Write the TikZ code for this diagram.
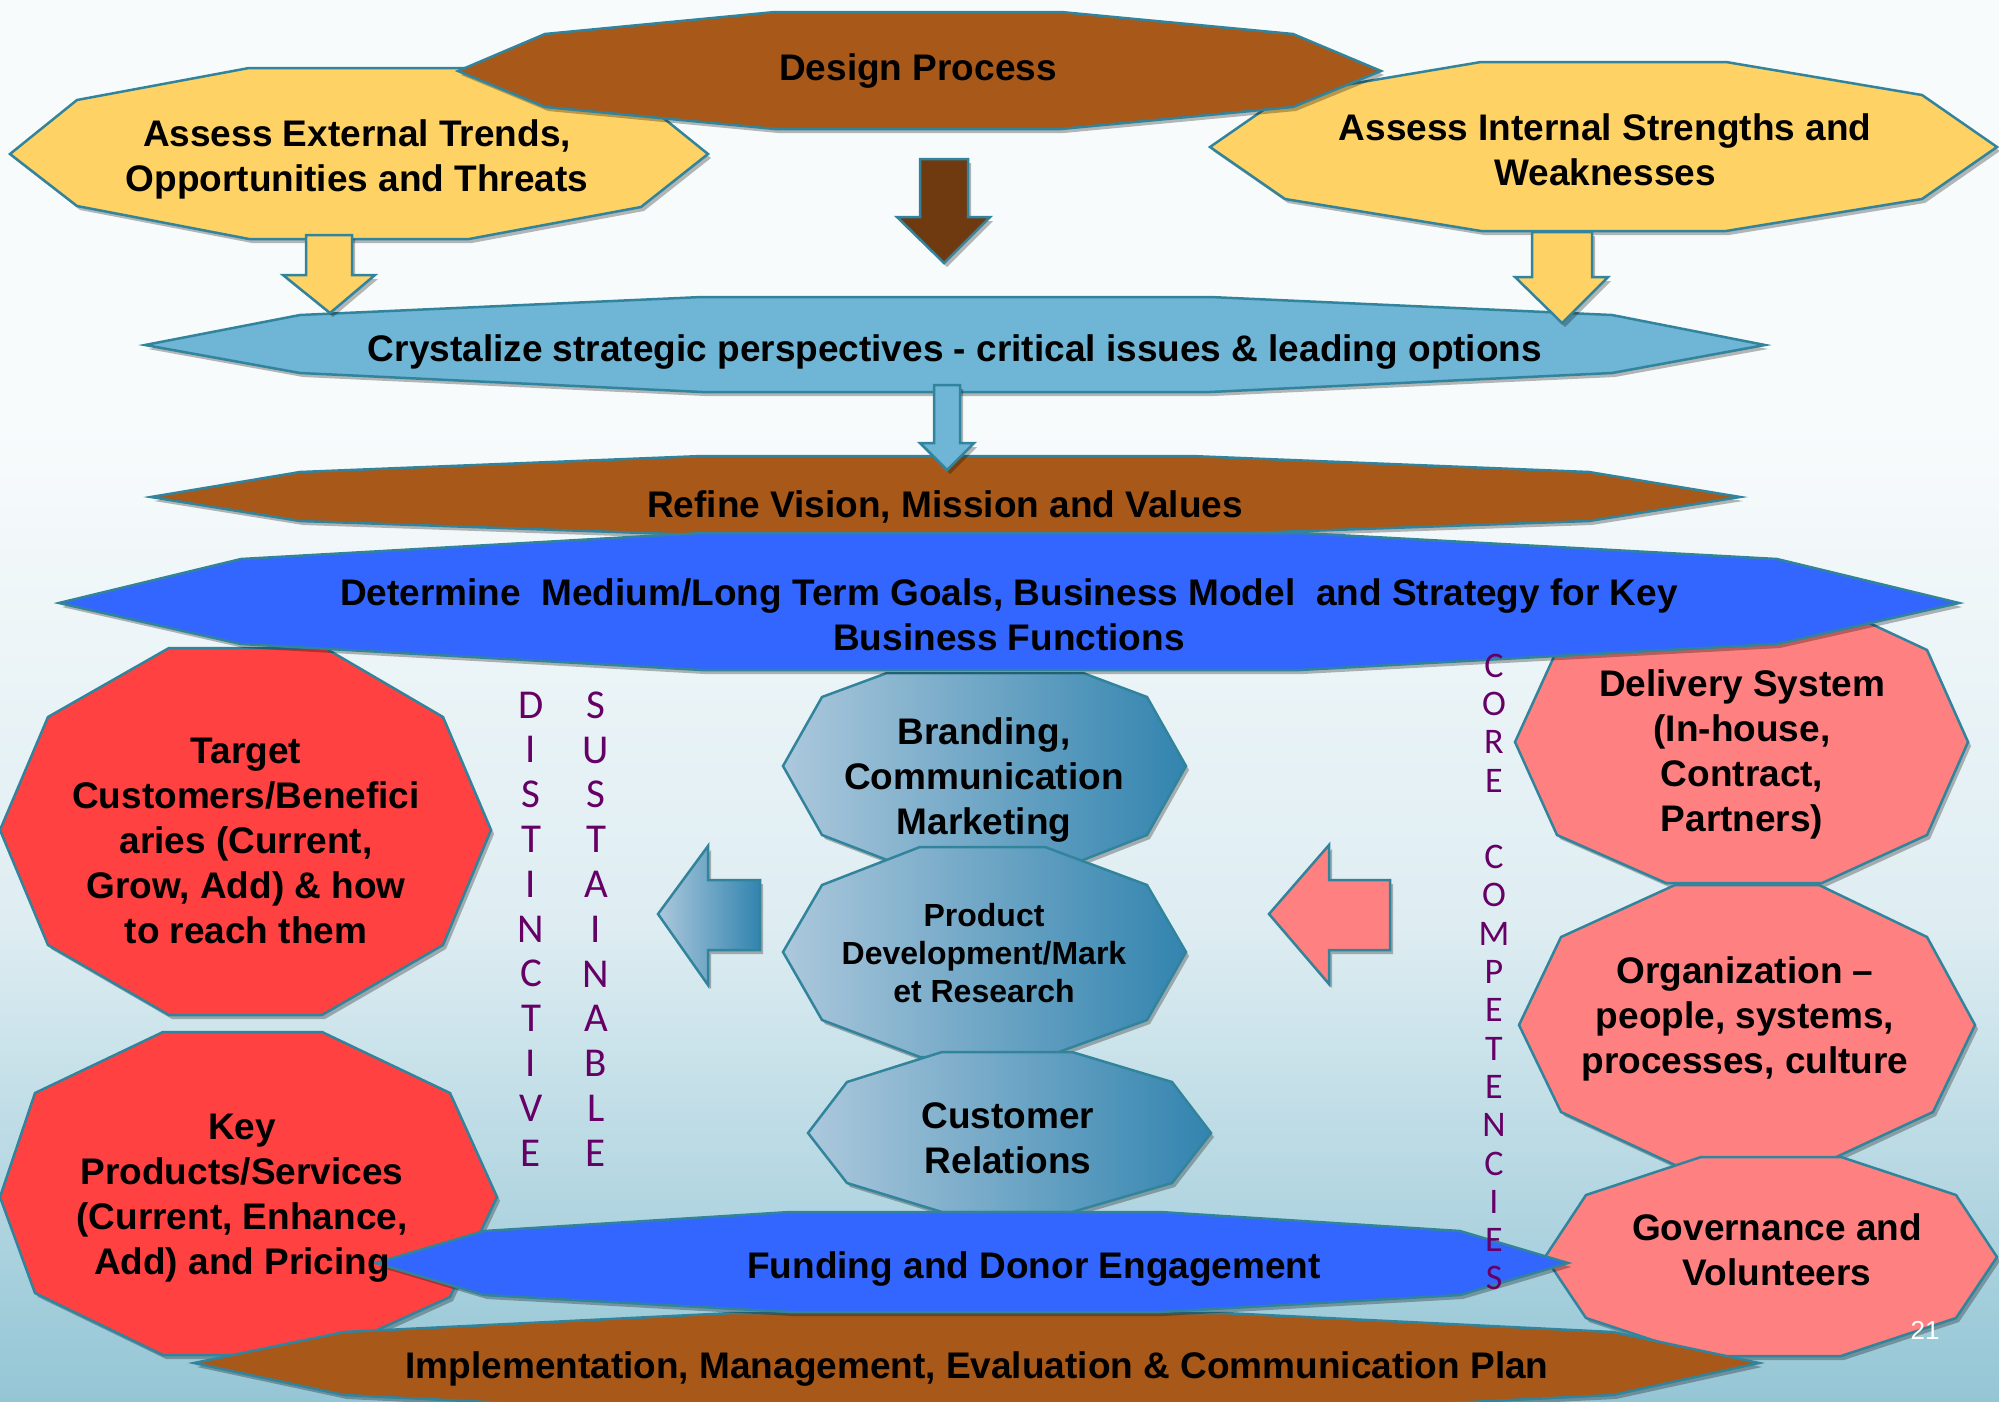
\documentclass[tikz,border=0pt]{standalone}
\usepackage{fontspec}
\setmainfont{Liberation Sans}
\newfontfamily\thinfont{Carlito}
\usetikzlibrary{shadows}
\definecolor{edge}{RGB}{49,132,155}
\definecolor{bandbrown}{RGB}{168,88,24}
\definecolor{arrowbrown}{RGB}{112,58,16}
\definecolor{softyellow}{RGB}{255,210,102}
\definecolor{skyblue}{RGB}{110,181,214}
\definecolor{vividblue}{RGB}{51,102,255}
\definecolor{brightred}{RGB}{255,65,65}
\definecolor{salmon}{RGB}{255,128,128}
\definecolor{purp}{RGB}{102,0,102}
\definecolor{steelL}{RGB}{172,200,220}
\definecolor{steelR}{RGB}{50,132,175}
\definecolor{bgtop}{RGB}{248,251,252}
\definecolor{bgmid}{RGB}{222,237,242}
\definecolor{bglow}{RGB}{160,204,218}
\definecolor{bgbot}{RGB}{104,170,194}
\pgfdeclareverticalshading{bgshade}{100bp}{color(0bp)=(bgbot); color(12bp)=(bgbot); color(28bp)=(bglow); color(42bp)=(bgmid); color(60bp)=(bgtop); color(100bp)=(bgtop)}
\begin{document}
\begin{tikzpicture}[x=1pt,y=-1pt,
  shp/.style={draw=edge, line width=2.5pt, line join=miter,
    drop shadow={shadow xshift=3pt, shadow yshift=-4pt, opacity=0.28, fill=black}},
  steel/.style={shp, left color=steelL, right color=steelR},
  lbl/.style={font=\bfseries\fontsize{37}{45}\selectfont, align=center, text=black, inner sep=0pt},
  lblsmall/.style={font=\bfseries\fontsize{32}{38}\selectfont, align=center, text=black, inner sep=0pt},
  vert/.style={font=\thinfont\fontsize{41}{44.8}\selectfont, align=center, text=purp, inner sep=0pt},
  vertc/.style={font=\thinfont\fontsize{36}{38.3}\selectfont, align=center, text=purp, inner sep=0pt}]
\useasboundingbox (0,0) rectangle (1999,1401);
\shade[shading=bgshade] (0,0) rectangle (1999,1401);

% top yellow octagons
\path[shp, fill=softyellow] (10,154) -- (77,100) -- (249,68) -- (469,68) -- (641,100) -- (708,154) -- (641,207) -- (469,239) -- (249,239) -- (77,206) -- cycle;
\node[lbl] (external) at (357,159) {Assess External Trends,\\Opportunities and Threats};
\path[shp, fill=softyellow] (1210,147) -- (1285,95) -- (1481,62) -- (1726,62) -- (1922,95) -- (1997,147) -- (1922,199) -- (1726,231) -- (1481,231) -- (1285,199) -- cycle;
\node[lbl] (internal) at (1605,150) {Assess Internal Strengths and\\Weaknesses};

% design process
\path[shp, fill=bandbrown] (458,71) -- (545,34) -- (775,12) -- (1061,12) -- (1293,34) -- (1381,71) -- (1293,107) -- (1061,129) -- (775,129) -- (545,107) -- cycle;
\node[lbl] (design) at (918,71) {Design Process};

% crystalize band
\path[shp, fill=skyblue] (145,345) -- (300,315) -- (702,297) -- (1210,297) -- (1612,315) -- (1765,345) -- (1612,373) -- (1210,392) -- (702,392) -- (300,373) -- cycle;
\node[lbl] (crystal) at (955,352) {Crystalize strategic perspectives - critical issues \& leading options};

% down arrows
\path[shp, fill=softyellow] (306,235) -- (352,235) -- (352,275) -- (375,275) -- (330,313) -- (283,275) -- (306,275) -- cycle;
\path[shp, fill=softyellow] (1532,232) -- (1592,232) -- (1592,277) -- (1608,277) -- (1562,323) -- (1515,277) -- (1532,277) -- cycle;
\path[shp, fill=arrowbrown] (920,159) -- (968,159) -- (968,217) -- (990,217) -- (944,263) -- (897,217) -- (920,217) -- cycle;

% refine band
\path[shp, fill=bandbrown] (151,497) -- (300,472) -- (702,456) -- (1191,456) -- (1589,472) -- (1740,497) -- (1589,521) -- (1191,535) -- (702,535) -- (300,521) -- cycle;
\node[lbl] (refine) at (945,507) {Refine Vision, Mission and Values};
\path[shp, fill=skyblue] (934,385) -- (960,385) -- (960,443) -- (974,443) -- (947,470) -- (920,443) -- (934,443) -- cycle;

% shapes under the determine band
\path[shp, fill=brightred] (169,648) -- (325,648) -- (443,717) -- (491,830) -- (443,945) -- (322,1015) -- (169,1015) -- (48,945) -- (0,830) -- (48,717) -- cycle;
\node[lbl] (target) at (246,841) {Target\\Customers/Benefici\\aries (Current,\\Grow, Add) \& how\\to reach them};
\path[shp, fill=salmon] (1666,601) -- (1822,601) -- (1927,650) -- (1968,742) -- (1927,835) -- (1822,883) -- (1666,883) -- (1557,835) -- (1515,742) -- (1557,650) -- cycle;
\node[lbl] (delivery) at (1742,754) {Delivery System\\(In-house,\\Contract,\\Partners)};
\path[steel] (887,673) -- (1083,673) -- (1147,697) -- (1186,766) -- (1147,835) -- (1083,860) -- (887,860) -- (822,835) -- (783,766) -- (822,697) -- cycle;
\node[lbl] (branding) at (984,780) {Branding,\\Communication\\Marketing};

% determine band
\path[shp, fill=vividblue] (59,603) -- (241,559) -- (702,533) -- (1300,533) -- (1777,559) -- (1959,603) -- (1777,644) -- (1300,670) -- (702,670) -- (241,644) -- cycle;
\node[lbl] (determine) at (1009,615) {Determine\ \ Medium/Long Term Goals, Business Model\ \ and Strategy for Key\\Business Functions};

% central column
\path[steel] (920,847) -- (1045,847) -- (1147,885) -- (1186,952) -- (1147,1020) -- (1045,1057) -- (920,1057) -- (822,1020) -- (783,952) -- (822,885) -- cycle;
\node[lblsmall] (product) at (984,953) {Product\\Development/Mark\\et Research};
\path[steel] (942,1052) -- (1072,1052) -- (1172,1082) -- (1211,1133) -- (1172,1183) -- (1072,1212) -- (942,1212) -- (847,1183) -- (808,1133) -- (847,1082) -- cycle;
\node[lbl] (customer) at (1008,1138) {Customer\\Relations};

% right column
\path[shp, fill=salmon] (1675,885) -- (1819,885) -- (1927,937) -- (1975,1025) -- (1933,1112) -- (1819,1165) -- (1675,1165) -- (1561,1112) -- (1519,1025) -- (1561,937) -- cycle;
\node[lbl] (organization) at (1745,1019) {Organization --\\people, systems,\\processes, culture};
\path[shp, fill=salmon] (1701,1157) -- (1841,1157) -- (1956,1195) -- (1997,1257) -- (1956,1318) -- (1841,1356) -- (1701,1356) -- (1586,1318) -- (1545,1257) -- (1586,1195) -- cycle;
\node[lbl] (governance) at (1777,1250) {Governance and\\Volunteers};

% key products
\path[shp, fill=brightred] (163,1032) -- (322,1032) -- (450,1093) -- (497,1197) -- (450,1297) -- (322,1355) -- (163,1355) -- (35,1293) -- (0,1197) -- (35,1093) -- cycle;

% implementation band
\path[shp, fill=bandbrown] (194,1363) -- (344,1332) -- (733,1313) -- (1224,1313) -- (1613,1332) -- (1759,1363) -- (1613,1395) -- (1224,1414) -- (733,1414) -- (344,1395) -- cycle;
\node[lbl] (implementation) at (977,1369) {Implementation, Management, Evaluation \& Communication Plan};

% funding band
\path[shp, fill=vividblue] (376,1263) -- (484,1231) -- (790,1212) -- (1160,1212) -- (1460,1231) -- (1568,1263) -- (1460,1295) -- (1160,1312) -- (790,1312) -- (484,1295) -- cycle;
\node[lbl] (funding) at (1034,1269) {Funding and Donor Engagement};
\node[lbl] (keyproducts) at (242,1198) {Key\\Products/Services\\(Current, Enhance,\\Add) and Pricing};

% side arrows
\path[shp, left color=steelL, right color=steelR] (658,914) -- (708,846) -- (708,880) -- (760,880) -- (760,950) -- (708,950) -- (708,985) -- cycle;
\path[shp, fill=salmon] (1269,914) -- (1329,845) -- (1329,880) -- (1390,880) -- (1390,950) -- (1329,950) -- (1329,984) -- cycle;

% vertical words
\node[vert] (distinctive) at (531,929) {D\\I\\S\\T\\I\\N\\C\\T\\I\\V\\E};
\node[vert] (sustainable) at (596,929) {S\\U\\S\\T\\A\\I\\N\\A\\B\\L\\E};
\node[vertc] (core) at (1494,972) {C\\O\\R\\E\\\mbox{}\\C\\O\\M\\P\\E\\T\\E\\N\\C\\I\\E\\S};

\node[font=\fontsize{26}{26}\selectfont, text=white, inner sep=0pt] (page) at (1925,1330) {21};
\end{tikzpicture}
\end{document}
